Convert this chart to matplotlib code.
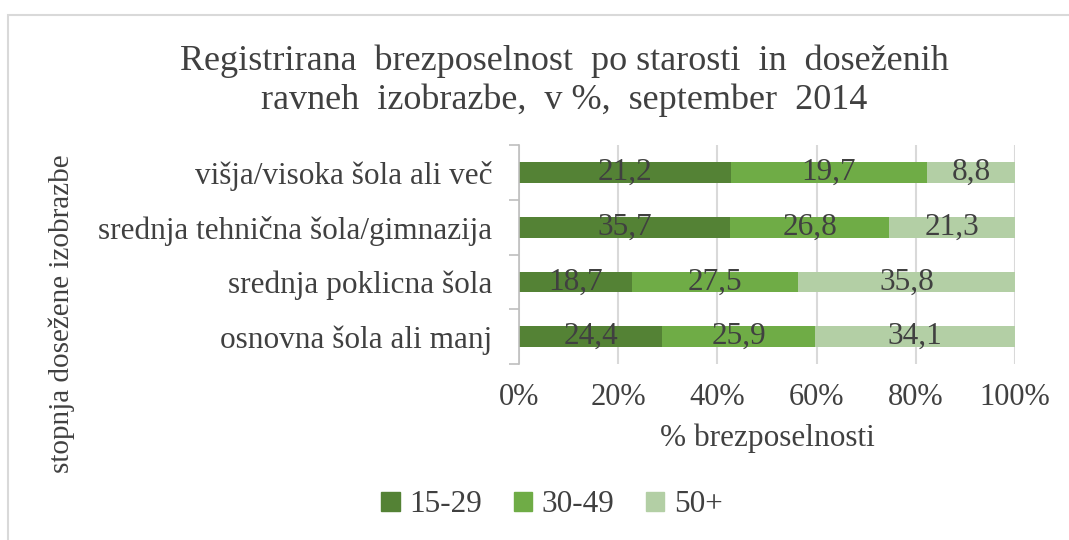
import matplotlib.pyplot as plt
from matplotlib.patches import Rectangle, Patch

# podatki (od zgoraj navzdol)
categories = ["višja/visoka šola ali več",
              "srednja tehnična šola/gimnazija",
              "srednja poklicna šola",
              "osnovna šola ali manj"]
age_groups = ["15-29", "30-49", "50+"]
v_15_29 = [21.2, 35.7, 18.7, 24.4]
v_30_49 = [19.7, 26.8, 27.5, 25.9]
v_50_plus = [8.8, 21.3, 35.8, 34.1]
x_ticks = [0, 20, 40, 60, 80, 100]

colors = ["#548235", "#6FAC46", "#B3CFA5"]
text_col = "#404040"
plt.rcParams["font.family"] = ["Liberation Serif", "DejaVu Serif"]

fig = plt.figure(figsize=(10.69, 5.4), dpi=100)
fig.patches.append(Rectangle((8 / 1069, -0.1), 1.2, 1 - 15 / 540 + 0.1,
                             transform=fig.transFigure, fill=False,
                             edgecolor="#D9D9D9", linewidth=1.5))
ax = fig.add_axes([519 / 1069, 1 - 364 / 540, (1015 - 519) / 1069, (364 - 145.5) / 540])

series = [v_15_29, v_30_49, v_50_plus]
totals = [sum(s[i] for s in series) for i in range(len(categories))]
ypos = list(range(len(categories)))[::-1]
left = [0.0] * len(categories)
for vals, col in zip(series, colors):
    widths = [v / t * 100 for v, t in zip(vals, totals)]
    ax.barh(ypos, widths, left=left, height=0.38, color=col, zorder=3)
    for y, l, w, v in zip(ypos, left, widths, vals):
        ax.text(l + w / 2, y, f"{v:.1f}".replace(".", ","), ha="center", va="center",
                fontsize=22.5, color=text_col, zorder=4)
    left = [a + b for a, b in zip(left, widths)]

ax.set_xlim(0, 100)
ax.set_ylim(-0.5, 3.5)
ax.set_xticks(x_ticks)
ax.set_xticklabels([f"{t}%" for t in x_ticks], fontsize=22, color=text_col)
ax.set_yticks(ypos)
ax.set_yticklabels(categories, fontsize=22.5, color=text_col)
ax.set_yticks([-0.5, 0.5, 1.5, 2.5, 3.5], minor=True)
ax.tick_params(axis="y", which="major", length=0, pad=19)
ax.tick_params(axis="y", which="minor", length=7, color="#BFBFBF", width=1.2)
ax.tick_params(axis="x", length=0, pad=14)
ax.grid(axis="x", color="#D9D9D9", linewidth=1.5, zorder=0)
for s in ["top", "right", "bottom"]:
    ax.spines[s].set_visible(False)
ax.spines["left"].set_color("#BFBFBF")
ax.spines["left"].set_linewidth(1.2)
ax.spines["left"].set_zorder(5)

ax.set_xlabel("% brezposelnosti", fontsize=22.5, color=text_col, labelpad=8)
fig.text(62 / 1069, 1 - 314 / 540, "stopnja dosežene izobrazbe", rotation=90,
         ha="center", va="center", fontsize=21, color=text_col)
fig.text(564 / 1069, 1 - 81 / 540,
         "Registrirana  brezposelnost  po starosti  in  doseženih\nravneh  izobrazbe,  v %,  september  2014",
         ha="center", va="center", fontsize=26, color=text_col, linespacing=1.2)

handles = [Patch(color=c) for c in colors]
fig.legend(handles, age_groups, loc="center", bbox_to_anchor=(552 / 1069, 1 - 505 / 540),
           ncol=3, frameon=False, fontsize=22.5, handlelength=0.6, handleheight=0.6,
           handletextpad=0.3, columnspacing=1.0, labelcolor=text_col)

fig.savefig("out.png", dpi=100)
